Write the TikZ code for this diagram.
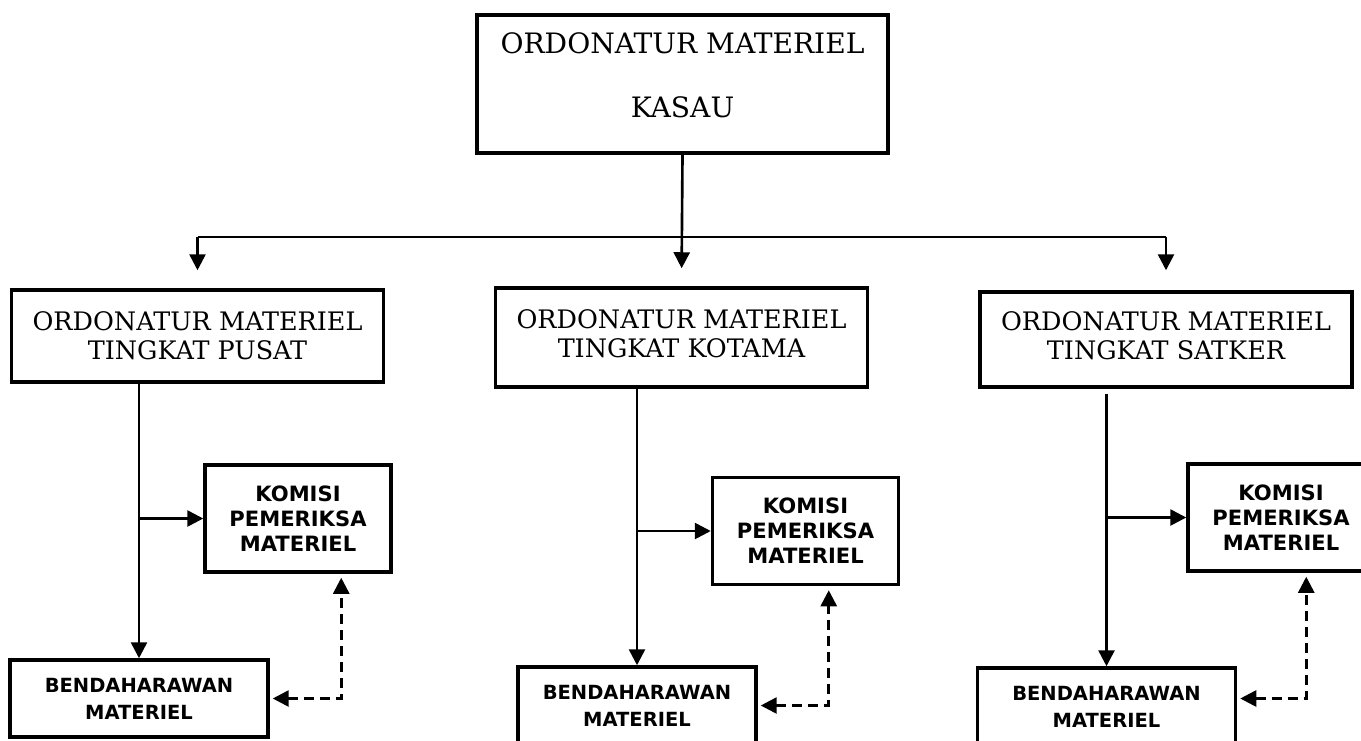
\documentclass[tikz,border=0pt]{standalone}
\usepackage{fontspec}
\setmainfont{DejaVu Serif}
\newfontfamily\boxfont{DejaVu Sans}
\usetikzlibrary{arrows.meta,positioning}

\tikzset{
    ordbox/.style={draw, line width=2pt, align=center, inner sep=0pt,
        font=\fontsize{14.5}{16.5}\selectfont,
        minimum width=7.44cm, minimum height=1.9cm},
    kombox/.style={draw, line width=2pt, align=center, inner sep=0pt,
        font=\boxfont\bfseries\fontsize{12}{14.2}\selectfont,
        minimum width=3.72cm, minimum height=2.14cm},
    bendbox/.style={draw, line width=2pt, align=center, inner sep=0pt,
        font=\boxfont\bfseries\fontsize{11.1}{15.3}\selectfont,
        minimum width=5.16cm, minimum height=1.54cm},
    link/.style={line width=1.5pt},
    arr/.style={link, -{Triangle[length=0.32cm,width=0.32cm]}},
    dasharr/.style={link, dash pattern=on 0.2cm off 0.12cm,
        {Triangle[length=0.32cm,width=0.32cm]}-{Triangle[length=0.32cm,width=0.32cm]},
        shorten <=0.06cm, shorten >=0.08cm}
}

\begin{document}
\begin{tikzpicture}[x=0.02cm, y=-0.02cm]
    \useasboundingbox (0,0) rectangle (1361,740);
    \clip (0,0) rectangle (1361,740);

    % Top level
    \node[ordbox, font=\fontsize{16}{20}\selectfont, minimum width=8.22cm, minimum height=2.76cm]
        (kasau) at (682.5,84) {ORDONATUR MATERIEL\\[0.58cm]KASAU\\[-0.34cm]~};
    \coordinate (bus) at (682.5,237);

    % Second level
    \node[ordbox, minimum height=1.84cm] (pusat) at (197.5,336) {ORDONATUR MATERIEL\\TINGKAT PUSAT};
    \node[ordbox, minimum height=1.98cm] (kotama) at (681.5,337.5) {ORDONATUR MATERIEL\\TINGKAT KOTAMA\\[-0.42cm]~};
    \node[ordbox] (satker) at (1166,339.5) {ORDONATUR MATERIEL\\TINGKAT SATKER\\[-0.42cm]~};

    % Komisi boxes
    \node[kombox] (kom1) at (298,518.5) {KOMISI\\PEMERIKSA\\MATERIEL};
    \node[kombox] (kom2) at (805.5,531) {KOMISI\\PEMERIKSA\\MATERIEL};
    \node[kombox] (kom3) at (1281,517.5) {KOMISI\\PEMERIKSA\\MATERIEL};

    % Bendaharawan boxes
    \node[bendbox] (bend1) at (139,698.5) {BENDAHARAWAN\\MATERIEL};
    \node[bendbox, minimum width=4.76cm] (bend2) at (637,705.5) {BENDAHARAWAN\\MATERIEL};
    \node[bendbox] (bend3) at (1106.5,706.5) {BENDAHARAWAN\\MATERIEL};

    % Distribution from top
    \draw[link] (bus -| pusat.north) -- (bus -| satker.north);
    \draw[arr, shorten >=0.36cm] (kasau.south) -- (kotama.north);
    \draw[arr, shorten >=0.36cm] (bus -| pusat.north) -- (pusat.north);
    \draw[arr, shorten >=0.4cm] (bus -| satker.north) -- (satker.north);

    % Branches
    \draw[arr] (pusat.south -| bend1.north) -- (bend1.north);
    \draw[arr] (kotama.south -| bend2.north) -- (bend2.north);
    \draw[arr, shorten <=0.1cm] (satker.south -| bend3.north) -- (bend3.north);
    \foreach \i in {1,2,3}
        \draw[arr] (kom\i.west -| bend\i.north) -- (kom\i.west);

    % Dashed links
    \draw[dasharr] (bend1.east) -| ([xshift=2.76cm]kom1.south west);
    \draw[dasharr] (bend2.east) -| ([xshift=2.36cm]kom2.south west);
    \draw[dasharr] ([yshift=0.16cm]bend3.east) -| ([xshift=2.4cm]kom3.south west);
\end{tikzpicture}
\end{document}
